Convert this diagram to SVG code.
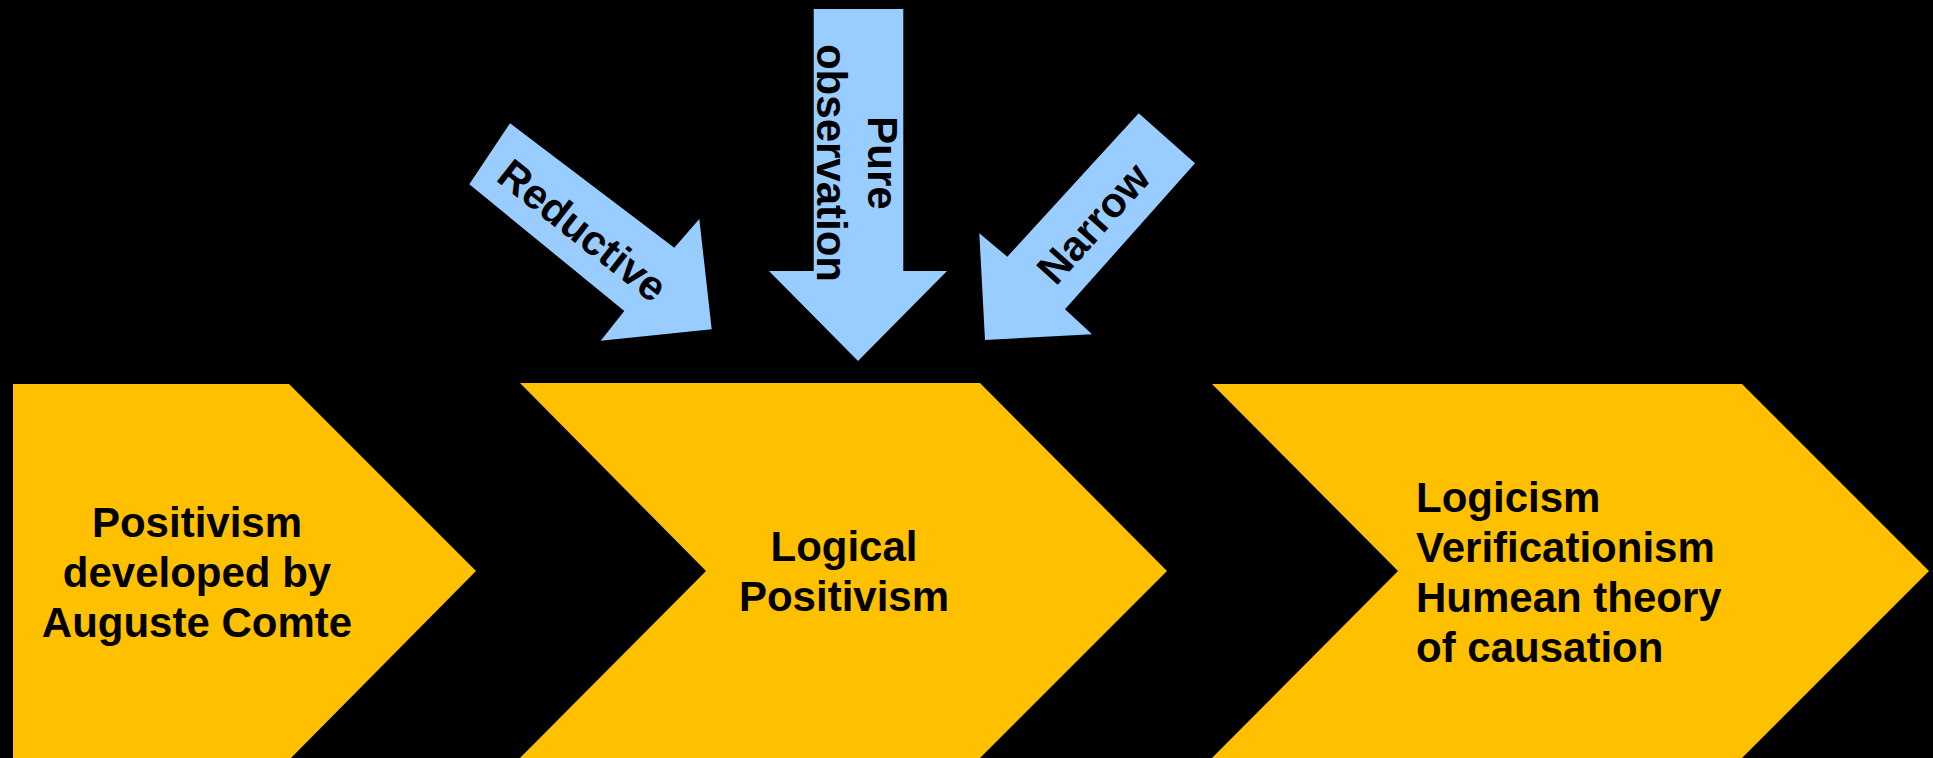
<svg xmlns="http://www.w3.org/2000/svg" width="1933" height="758" viewBox="0 0 1933 758">
  <style>
    .stage { fill: #FFC000; }
    .push { fill: #99CCFF; }
    .lbl { font-family: "Liberation Sans", Arial, sans-serif; font-weight: bold; font-size: 42px; fill: #000; }
    .mid { text-anchor: middle; }
  </style>
  <rect x="0" y="0" width="1933" height="758" fill="#000"/>

  <!-- process stages -->
  <g id="stage-positivism">
    <polygon class="stage" points="13,384 289,384 476,571 289,760 13,760"/>
    <text class="lbl mid" x="197" y="537">Positivism</text>
    <text class="lbl mid" x="197" y="587">developed by</text>
    <text class="lbl mid" x="197" y="637">Auguste Comte</text>
  </g>

  <g id="stage-logical-positivism">
    <polygon class="stage" points="520,383 980,383 1167,571 978,760 518,760 706,571"/>
    <text class="lbl mid" x="844" y="561">Logical</text>
    <text class="lbl mid" x="844" y="611">Positivism</text>
  </g>

  <g id="stage-tenets">
    <polygon class="stage" points="1212,384 1742,384 1929,571 1740,760 1210,760 1398,571"/>
    <text class="lbl" x="1416" y="512">Logicism</text>
    <text class="lbl" x="1416" y="562">Verificationism</text>
    <text class="lbl" x="1416" y="612">Humean theory</text>
    <text class="lbl" x="1416" y="662">of causation</text>
  </g>

  <!-- critiques pressing on the middle stage -->
  <g id="connectors">
    <g id="critique-reductive">
      <polygon class="push" points="510,123.3 674.3,247.7 699.3,219 711.7,329.3 600.7,340.7 624.3,311 469.3,184.3"/>
      <text class="lbl mid" transform="translate(583,230) rotate(38.2)" y="15">Reductive</text>
    </g>
    <g id="critique-observation">
      <polygon class="push" points="813.7,9 903.3,9 903.3,271 947,271 858,361 769,271 813.7,271"/>
      <g transform="translate(842.5,163) rotate(90)">
        <text class="lbl mid" x="0" y="-25.2">Pure</text>
        <text class="lbl mid" x="0" y="25.2">observation</text>
      </g>
    </g>
    <g id="critique-narrow">
      <polygon class="push" points="1138.7,113.3 1195,163.3 1065,309.3 1092,334.3 985,340 979.3,233.3 1007.3,256.7"/>
      <text class="lbl mid" transform="translate(1093,223) rotate(-48)" y="15">Narrow</text>
    </g>
  </g>
</svg>
